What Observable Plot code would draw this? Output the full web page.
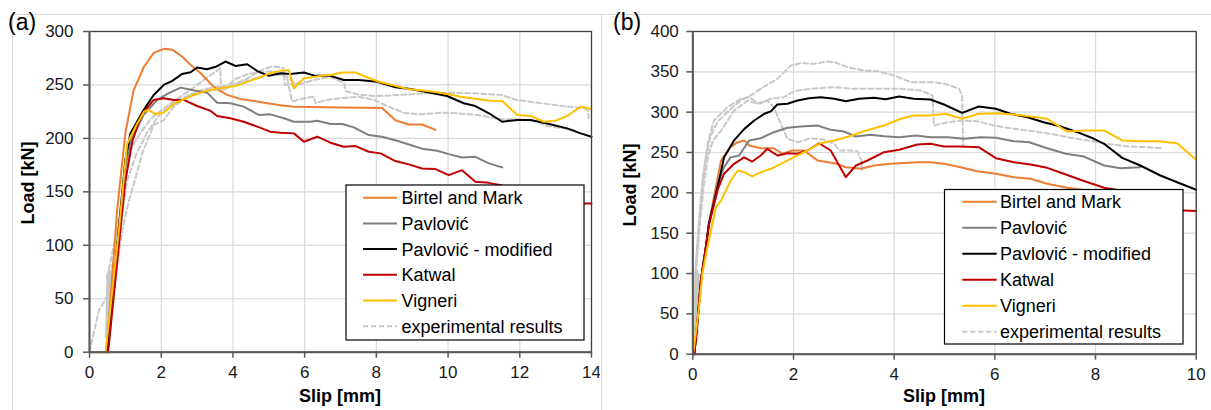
<!DOCTYPE html>
<html>
<head>
<meta charset="utf-8">
<script src="https://cdn.jsdelivr.net/npm/d3@7"></script>
<script src="https://cdn.jsdelivr.net/npm/@observablehq/plot@0.6"></script>
<style>
  html, body { margin: 0; padding: 0; background: #fff; }
  #wrap { position: relative; width: 1211px; height: 410px; overflow: hidden; background: #fff;
          font-family: Arial, "Liberation Sans", sans-serif; }
  #wrap > svg { position: absolute; top: 0; }
  #overlay { left: 0; pointer-events: none; }
</style>
</head>
<body>
<div id="wrap"></div>
<script>
// ---------- shared legend ----------
const seriesNames = ["Birtel and Mark", "Pavlović", "Pavlović - modified", "Katwal", "Vigneri", "experimental results"];
const seriesColors = ["#ED7D31", "#7F7F7F", "#000000", "#C00000", "#FFC000", "#C8C8C8"];

// ---------- panel (a) ----------
const aTicksX = [0, 2, 4, 6, 8, 10, 12, 14];
const aTicksY = [0, 50, 100, 150, 200, 250, 300];
const a_birtel = [[0.48,0],[0.77,133],[1.0,205],[1.23,245],[1.52,267],[1.79,280],[2.07,283.8],[2.31,283],[2.58,276.6],[2.82,268.8],[3.1,261],[3.47,248],[3.84,240.7],[4.21,236.9],[4.58,235],[4.96,232.9],[5.33,231],[5.7,229.7],[6.16,229.4],[7.0,228.8],[8.16,228.4],[8.53,217],[8.9,213],[9.28,213],[9.65,208]];
const a_pavlovic = [[0.5,0],[0.85,125],[1.0,172],[1.14,197],[1.51,222],[1.89,236],[2.21,242.3],[2.54,247.5],[2.86,245.3],[3.28,242.8],[3.56,233.4],[3.93,232.9],[4.3,229.7],[4.72,222],[5.04,222.5],[5.42,218.8],[5.7,215.6],[6.16,215.6],[6.35,216.6],[6.72,213.5],[7.05,213.5],[7.37,210.3],[7.79,203.1],[8.16,201.6],[8.58,197.8],[8.95,193.8],[9.32,190],[9.7,188.4],[10.02,185.3],[10.39,182.2],[10.76,182.8],[11.14,176.6],[11.51,172.9]];
const a_pavlovicMod = [[0.5,0],[0.85,128],[1.0,180],[1.14,204.7],[1.51,226.6],[1.79,240.6],[2.07,250],[2.31,253.8],[2.58,260.3],[2.82,261.9],[3.0,266.3],[3.28,264.7],[3.52,267],[3.79,271.9],[4.07,267.8],[4.4,269.4],[4.68,263],[5.0,258.5],[5.33,261],[5.6,260.3],[5.98,261.6],[6.3,258.5],[6.72,258.5],[7.09,254.7],[7.51,254.7],[8.02,253],[8.53,247.9],[8.95,246.3],[9.51,242.8],[9.97,239.7],[10.44,232.9],[10.76,230.3],[11.14,223.5],[11.51,215.6],[11.93,217.2],[12.3,217.2],[12.76,214],[13.32,209.4],[13.7,204.7],[14.0,201.6]];
const a_katwal = [[0.52,0],[0.86,114],[1.0,160],[1.2,198],[1.45,222],[1.79,236],[2.07,237.6],[2.35,236],[2.63,236],[3.0,230.3],[3.38,225.7],[3.56,221],[3.93,218.8],[4.3,215.6],[4.68,211],[5.04,206.3],[5.33,205.3],[5.7,204.7],[5.98,196.9],[6.35,201.6],[6.72,196],[7.09,192.2],[7.42,192.8],[7.79,187.5],[8.12,186],[8.53,178.8],[8.9,175.7],[9.28,171.9],[9.65,171.3],[10.02,165.7],[10.39,170.3],[10.76,159.4],[11.14,158.4],[11.47,156.3],[12.0,150],[12.6,145],[13.2,141],[13.7,139],[14.0,139]];
const a_vigneri = [[0,0],[0.45,0],[0.82,114],[1.05,195],[1.33,214],[1.52,225],[1.65,226.6],[1.84,222.8],[2.07,224],[2.35,232.2],[2.63,236.6],[2.91,240.6],[3.19,243.8],[3.47,246],[3.84,247.9],[4.12,249.4],[4.49,254],[4.77,257.2],[5.04,261],[5.33,263.4],[5.56,264],[5.7,246.9],[5.98,256.3],[6.16,257],[6.44,258.5],[6.72,259.4],[7.05,261.6],[7.42,261.6],[7.74,257.2],[8.07,253],[8.44,250],[8.86,246.3],[9.42,244.4],[9.88,242.2],[10.35,239],[10.81,236.9],[11.18,235.3],[11.51,235],[11.93,222],[12.3,221],[12.67,215.6],[13.0,216.6],[13.32,221],[13.7,229.7],[14.0,227.5]];
const a_exp1 = [[0.49,70],[0.77,114],[0.95,150],[1.14,190],[1.42,205],[1.7,218],[2.0,226],[2.4,236],[2.8,245],[3.2,255],[3.5,262],[3.65,266],[3.67,244],[4.0,250],[4.4,256],[4.8,264],[5.1,267.5],[5.4,266],[5.45,250],[5.9,251],[6.3,255],[6.7,257.5],[7.1,252],[7.15,244],[7.5,241],[8.0,239.5],[8.6,240.6],[9.4,242.2],[10.1,242.8],[10.7,242.2],[11.5,240.6],[11.9,236],[12.6,232.9],[13.2,230.3],[13.8,228.2],[13.9,226],[13.92,218.8]];
const a_exp2 = [[0.58,72],[0.85,118],[1.05,160],[1.3,185],[1.6,205],[1.9,220],[2.2,230],[2.5,236],[2.8,241],[3.2,246],[3.5,248],[3.84,249],[4.1,256],[4.4,260],[4.8,262],[5.1,263],[5.5,258],[5.65,234.4],[5.98,237.6],[6.26,239],[6.3,233],[6.63,236],[7.0,237.6],[7.51,239],[7.93,236],[8.3,230.3],[8.76,224],[9.23,222.5],[9.79,224],[10.25,223.5],[10.81,221.9],[11.47,217.9],[11.93,217.9],[12.39,216.6],[12.76,211.6],[13.23,209.4],[13.6,207.2]];
const a_exp3 = [[0,0],[0.26,39],[0.49,52],[0.68,55],[0.91,114],[1.1,142],[1.3,165],[1.47,186],[1.79,212.5],[2.07,217],[2.35,229.7],[2.72,239],[3.1,243],[3.47,245],[3.9,249],[4.3,253],[4.8,258],[5.2,260],[5.5,258],[5.7,252],[5.98,250.7]];
const a_loops = [[0.46,14],[0.5,72],[0.47,15],[0.52,74],[0.49,14],[0.53,75],[0.5,16],[0.55,76],[0.51,15],[0.56,74],[0.53,17],[0.58,75],[0.54,18],[0.59,73],[0.56,19],[0.61,74],[0.57,20],[0.62,72],[0.59,22],[0.64,70]];

// ---------- panel (b) ----------
const bTicksX = [0, 2, 4, 6, 8, 10];
const bTicksY = [0, 50, 100, 150, 200, 250, 300, 350, 400];
const b_birtel = [[0.03,0],[0.1,45],[0.16,91],[0.26,133],[0.32,162],[0.42,195],[0.56,240],[0.75,256.6],[0.89,262.8],[1.02,265],[1.12,258.7],[1.35,255.3],[1.61,255.3],[1.78,248.4],[1.98,252.5],[2.21,252.5],[2.48,240],[2.81,236.8],[3.04,231.8],[3.34,229.8],[3.6,233.9],[3.93,236],[4.13,236.8],[4.46,238],[4.72,238],[4.99,236],[5.32,231.8],[5.65,226.8],[6.02,223.6],[6.38,219.4],[6.71,217.4],[7.04,211.2],[7.44,206.3],[7.84,202.9],[8.2,200]];
const b_pavlovic = [[0.03,0],[0.1,45],[0.16,91],[0.26,133],[0.32,162],[0.42,188],[0.5,212],[0.62,231.8],[0.75,244],[0.92,246.3],[1.12,265],[1.35,267.7],[1.61,275.2],[1.88,280.6],[2.14,282.2],[2.48,283.5],[2.74,278.1],[3.0,276],[3.24,269.9],[3.53,271.9],[3.8,270.2],[4.1,269],[4.43,271.1],[4.72,269],[5.06,269],[5.39,267],[5.72,269],[6.02,268.2],[6.38,264],[6.68,262.8],[7.04,255.3],[7.41,248.4],[7.77,245],[8.17,233.9],[8.5,230.6],[8.89,231.8]];
const b_pavlovicMod = [[0.03,0],[0.1,45],[0.16,91],[0.26,133],[0.32,162],[0.42,188],[0.52,215],[0.62,244],[0.82,265],[1.02,279],[1.22,289.7],[1.42,298],[1.55,301],[1.68,309.5],[1.88,310.4],[2.08,314.5],[2.31,317.3],[2.54,318.6],[2.81,316.6],[3.04,313.6],[3.3,316.6],[3.6,317.8],[3.83,316],[4.1,319.4],[4.39,316.6],[4.72,315.7],[4.99,309.5],[5.35,299.2],[5.68,307],[6.02,304.2],[6.31,298],[6.65,293.8],[6.97,287.6],[7.31,282.3],[7.64,275.2],[7.97,267],[8.17,260.8],[8.53,243.4],[8.89,233.9],[9.29,221.5],[9.62,213.2],[10.0,203.8]];
const b_katwal = [[0.03,0],[0.1,45],[0.16,91],[0.26,133],[0.32,160],[0.42,185],[0.5,205],[0.62,223.6],[0.82,236],[1.02,244],[1.18,238.8],[1.35,246.3],[1.48,254.6],[1.68,246.3],[1.88,249.2],[2.08,248.4],[2.28,252.5],[2.51,261.5],[2.74,252.5],[3.04,219.4],[3.24,233.9],[3.47,240.1],[3.8,250.4],[4.1,253.4],[4.46,259.9],[4.72,260.8],[4.99,257.5],[5.32,257.5],[5.68,256.6],[6.02,243],[6.38,238],[6.71,235.1],[7.04,231],[7.37,223.6],[7.74,215.3],[8.17,206.3],[8.5,202.9],[9.0,192],[9.4,184],[9.75,178],[10.0,177.5]];
const b_vigneri = [[0,0],[0.02,6.7],[0.125,58],[0.19,99.6],[0.29,132.6],[0.39,161.6],[0.46,182],[0.56,190.5],[0.75,215],[0.89,227.7],[1.02,225.6],[1.18,220.3],[1.35,225.6],[1.55,229.8],[1.78,236.8],[2.01,244.2],[2.28,252.5],[2.54,261.5],[2.81,265],[3.1,269.9],[3.4,276.4],[3.8,283.5],[4.13,291.8],[4.39,295.9],[4.72,295.9],[5.02,298],[5.35,291.8],[5.68,298],[6.02,298.7],[6.38,297.1],[6.71,294.6],[7.04,291.8],[7.44,276],[7.8,277.3],[8.17,277.3],[8.53,265],[8.89,264],[9.26,264],[9.62,261.5],[10.0,241]];
const b_exp1 = [[0.06,105],[0.12,160],[0.18,200],[0.25,240],[0.35,270],[0.49,288],[0.72,302],[0.95,314.5],[1.15,320.7],[1.42,331.8],[1.68,341.4],[1.95,357.9],[2.14,360.7],[2.41,360],[2.68,362.8],[2.81,362],[3.08,355.7],[3.4,351.6],[3.67,350.8],[4.0,345.5],[4.33,337.2],[4.79,337.2],[5.06,334.3],[5.29,329],[5.35,320],[5.37,257]];
const b_exp2 = [[0.06,100],[0.14,160],[0.22,210],[0.3,245],[0.4,265],[0.55,276],[0.82,302],[1.09,314.5],[1.28,310.4],[1.55,316.6],[1.81,318.6],[2.01,326],[2.34,329],[2.81,331],[3.2,329],[3.67,329],[4.13,329],[4.53,326.9],[4.76,320.7],[4.79,283.5],[5.06,287.6],[5.35,289.7],[5.65,288.8],[5.98,283.5],[6.25,280.6],[6.65,277.3],[7.04,274],[7.44,269],[7.84,264.9],[8.23,260.8],[8.63,257.5],[9.03,256.6],[9.32,255.3]];
const b_exp3 = [[0.05,100],[0.12,165],[0.2,220],[0.3,262],[0.42,289.7],[0.69,306],[0.95,316.6],[1.12,318.6],[1.32,310.4],[1.48,314.5],[1.61,306],[1.75,285.6],[1.88,267],[2.08,262.8],[2.34,267.7],[2.61,265.7],[2.81,260.8],[2.91,252.5],[3.1,252.5],[3.27,251.6],[3.35,240],[3.36,227]];
const b_loops = [[0.02,14],[0.05,100],[0.03,13],[0.06,101],[0.04,14],[0.07,102],[0.05,15],[0.08,103],[0.06,15],[0.09,103],[0.07,16],[0.1,100],[0.08,17],[0.11,99],[0.09,17],[0.12,98]];

const FONT = 'Arial, "Liberation Sans", sans-serif';

function panel(cfg) {
  const models = [cfg.birtel, cfg.pavlovic, cfg.pavlovicMod, cfg.katwal, cfg.vigneri];
  return Plot.plot({
    width: cfg.width, height: 410,
    marginLeft: cfg.ml, marginRight: cfg.mr, marginTop: 31, marginBottom: cfg.mb,
    x: { domain: cfg.xDomain, label: null },
    y: { domain: cfg.yDomain, label: null },
    style: { fontFamily: FONT, background: "transparent", color: "#1a1a1a" },
    marks: [
      Plot.gridX(cfg.ticksX, { stroke: "#d9d9d9", strokeOpacity: 1, strokeWidth: 1.2 }),
      Plot.gridY(cfg.ticksY, { stroke: "#d9d9d9", strokeOpacity: 1, strokeWidth: 1.2 }),
      Plot.line(cfg.loops, { stroke: seriesColors[5], strokeWidth: 2 }),
      ...cfg.exps.map(e => Plot.line(e, { stroke: seriesColors[5], strokeWidth: 2, strokeDasharray: "5,3" })),
      ...models.map((m, i) => Plot.line(m, { stroke: seriesColors[i], strokeWidth: 2 })),
      Plot.frame({ stroke: "#404040", strokeWidth: 1.3 }),
      Plot.ruleX([cfg.xDomain[0]], { stroke: "#595959", strokeWidth: 2 }),
      Plot.ruleY([cfg.yDomain[0]], { stroke: "#595959", strokeWidth: 2 }),
      Plot.axisX(cfg.ticksX, { tickSize: 6, tickPadding: 8, fontSize: 17, stroke: "#595959", strokeWidth: 1.5, label: null }),
      Plot.axisY(cfg.ticksY, { tickSize: 6, tickPadding: cfg.ypad, fontSize: 17, stroke: "#595959", strokeWidth: 1.5, label: null })
    ]
  });
}

const wrap = document.getElementById("wrap");

const svgA = panel({
  width: 600, ml: 89, mr: 9, mb: 58.3, xDomain: [0, 14], yDomain: [0, 300],
  ticksX: aTicksX, ticksY: aTicksY, ypad: 10,
  birtel: a_birtel, pavlovic: a_pavlovic, pavlovicMod: a_pavlovicMod, katwal: a_katwal, vigneri: a_vigneri,
  exps: [a_exp1, a_exp2, a_exp3], loops: a_loops
});
svgA.style.left = "0px";

const svgB = panel({
  width: 611, ml: 92.3, mr: 15.3, mb: 56.3, xDomain: [0, 10], yDomain: [0, 400],
  ticksX: bTicksX, ticksY: bTicksY, ypad: 8,
  birtel: b_birtel, pavlovic: b_pavlovic, pavlovicMod: b_pavlovicMod, katwal: b_katwal, vigneri: b_vigneri,
  exps: [b_exp1, b_exp2, b_exp3], loops: b_loops
});
svgB.style.left = "600px";

// chart-area borders (behind)
const back = d3.create("svg").attr("width", 1211).attr("height", 410).style("left", "0px");
back.append("path").attr("d", "M12.5,410V14.5H1211M601.5,410V14.5")
  .attr("fill", "none").attr("stroke", "#d9d9d9").attr("stroke-width", 1);
wrap.appendChild(back.node());
wrap.appendChild(svgA);
wrap.appendChild(svgB);

// overlay: titles, axis labels, legends
const ov = d3.create("svg").attr("id", "overlay").attr("width", 1211).attr("height", 410)
  .style("font-family", FONT);

function labels(tag, tagX, ylabX, ylabY, xlabX) {
  ov.append("text").attr("x", tagX).attr("y", 30).attr("font-size", 23).attr("fill", "#000").text(tag);
  ov.append("text").attr("transform", `translate(${ylabX},${ylabY}) rotate(-90)`)
    .attr("text-anchor", "middle").attr("font-size", 18).attr("font-weight", "bold").attr("fill", "#000").text("Load [kN]");
  ov.append("text").attr("x", xlabX).attr("y", 401.5).attr("text-anchor", "middle")
    .attr("font-size", 18).attr("font-weight", "bold").attr("fill", "#000").text("Slip [mm]");
}
labels("(a)", 8, 34, 183, 340);
labels("(b)", 613, 636, 185, 944);

function legend(x, y, w, h, lx0, lx1, tx, row0, step) {
  const g = ov.append("g");
  g.append("rect").attr("x", x).attr("y", y).attr("width", w).attr("height", h)
    .attr("fill", "#fff").attr("stroke", "#000").attr("stroke-width", 1.2);
  seriesNames.forEach((name, i) => {
    const cy = row0 + i * step;
    g.append("line").attr("x1", lx0).attr("x2", lx1).attr("y1", cy).attr("y2", cy)
      .attr("stroke", seriesColors[i]).attr("stroke-width", 2)
      .attr("stroke-dasharray", i === 5 ? "5,3" : null);
    g.append("text").attr("x", tx).attr("y", cy + 6.4).attr("font-size", 18).attr("fill", "#000").text(name);
  });
}
legend(346, 185, 238, 155, 363, 397, 401.5, 197.7, 25.7);
legend(944.5, 189.5, 238.5, 154.5, 962.3, 996.7, 1000, 201.7, 26);

wrap.appendChild(ov.node());
</script>
</body>
</html>
